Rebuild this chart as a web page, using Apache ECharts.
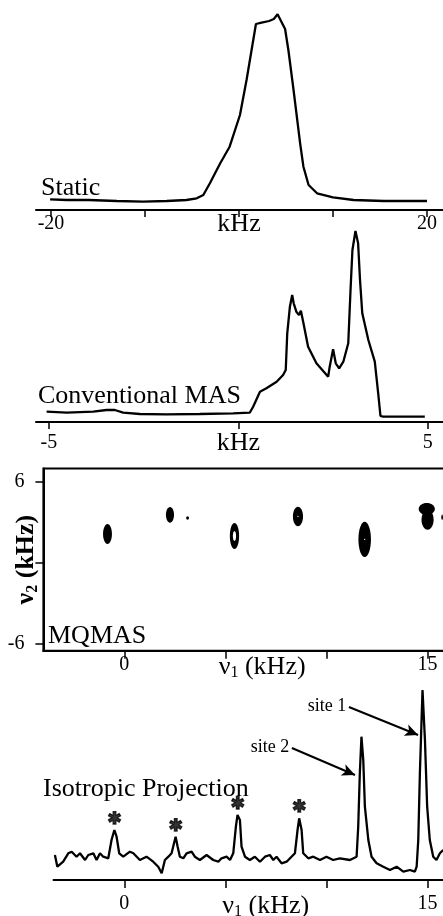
<!DOCTYPE html>
<html>
<head>
<meta charset="utf-8">
<title>Static, MAS and MQMAS spectra</title>
<script src="https://cdn.jsdelivr.net/npm/echarts@6/dist/echarts.min.js"></script>
<style>
html, body { margin: 0; padding: 0; background: #fff; }
#chart { width: 443px; height: 916px; }
</style>
</head>
<body>
<div id="chart"></div>
<script>
// static spectrum (kHz / arb. intensity)
const staticKHz = [-20.1, -18.3, -16.0, -13.0, -10.2, -7.7, -5.6, -4.5, -3.8, -3.1, -2.0, -1.0, 0.1, 0.8, 1.8, 2.4, 3.2, 3.7, 4.1, 4.9, 5.25, 5.8, 6.5, 6.85, 7.4, 8.3, 10.0, 12.2, 15.4, 20.0];
const staticInt = [10.7, 10, 10, 9, 8.3, 9, 10, 11.7, 15, 26.7, 46.7, 63.3, 95, 130, 186, 187.3, 189, 191, 195.7, 181, 160, 120, 66.7, 43.3, 25, 16.7, 12.7, 10, 9, 9];

// conventional MAS spectrum
const masKHz = [-5.06, -4.53, -3.83, -3.48, -3.26, -3.04, -2.60, -1.90, -1.02, -0.14, 0.30, 0.39, 0.57, 0.74, 1.01, 1.18, 1.25, 1.29, 1.36, 1.42, 1.46, 1.53, 1.60, 1.65, 1.71, 1.84, 2.06, 2.37, 2.41, 2.50, 2.57, 2.66, 2.77, 2.90, 2.96, 3.01, 3.09, 3.16, 3.21, 3.27, 3.43, 3.60, 3.69, 3.75, 3.82, 4.26, 4.92];
const masInt = [10.3, 9.3, 10.3, 12, 12, 9.3, 8, 7.7, 8, 8.7, 9.3, 15.3, 30.3, 33.7, 40.3, 47, 52, 88.7, 115.3, 127, 118.7, 110.3, 107, 111.3, 100.3, 75.3, 58.7, 45.3, 55.3, 72.7, 58.7, 53.7, 60.3, 78.7, 132, 172, 191, 178.7, 142, 108.7, 82, 60.3, 28.7, 6, 5.3, 5.3, 5.3];

// MQMAS contour peaks: v1, v2, half widths, inner contour half widths (kHz)
const mqV1 = [-0.83, 2.26, 3.13, 5.45, 8.59, 11.89, 14.96, 15.0, 15.72];
const mqV2 = [2.15, 3.56, 3.33, 2.0, 3.44, 1.74, 4.0, 3.19, 3.38];
const mqW1 = [0.22, 0.2, 0.07, 0.23, 0.25, 0.31, 0.40, 0.30, 0.04];
const mqW2 = [0.74, 0.59, 0.13, 0.96, 0.72, 1.30, 0.44, 0.74, 0.2];
const mqH1 = [0, 0, 0, 0.08, 0.03, 0.03, 0, 0, 0];
const mqH2 = [0, 0, 0, 0.37, 0.05, 0.05, 0, 0, 0];

// isotropic projection
const isoKHz = [-3.43, -3.31, -3.02, -2.77, -2.60, -2.36, -2.19, -1.94, -1.78, -1.53, -1.37, -1.20, -1.04, -0.79, -0.63, -0.49, -0.38, -0.25, -0.05, 0.28, 0.45, 0.77, 1.10, 1.43, 1.68, 1.85, 2.01, 2.18, 2.34, 2.46, 2.54, 2.64, 2.75, 2.92, 3.08, 3.33, 3.49, 3.74, 4.07, 4.40, 4.65, 4.81, 5.06, 5.23, 5.39, 5.52, 5.60, 5.72, 5.80, 5.97, 6.21, 6.46, 6.71, 6.96, 7.20, 7.37, 7.53, 7.78, 8.03, 8.27, 8.44, 8.57, 8.65, 8.77, 8.85, 9.10, 9.35, 9.68, 10.00, 10.33, 10.66, 11.16, 11.49, 11.57, 11.65, 11.73, 11.82, 11.90, 12.07, 12.23, 12.48, 12.81, 13.14, 13.47, 13.80, 14.13, 14.37, 14.46, 14.54, 14.62, 14.75, 14.87, 14.98, 15.11, 15.28, 15.44, 15.61, 15.77];
const isoInt = [25, 13.3, 18.3, 26.7, 28.3, 23.3, 26.7, 20, 25, 26.7, 20, 26.7, 23.3, 21.7, 40, 50, 43.3, 26.7, 23.3, 28.3, 26.7, 20, 23.3, 18.3, 13.3, 6.7, 20, 23.3, 26.7, 36.7, 43.3, 33.3, 23.3, 21.7, 26.7, 28.3, 23.3, 20, 25, 20, 18.3, 21.7, 23.3, 20, 26.7, 53.3, 65, 60, 33.3, 23.3, 20, 23.3, 18.3, 23.3, 25, 20, 23.3, 16.7, 18.3, 23.3, 26.7, 50, 61.7, 50, 26.7, 21.7, 23.3, 20, 23.3, 20, 21.7, 20, 23.3, 53.3, 106.7, 143.3, 120, 73.3, 40, 23.3, 16.7, 13.3, 10, 13.3, 8.3, 10, 8.3, 13.3, 40, 106.7, 190, 140, 73.3, 40, 23.3, 20, 26.7, 30];

// spinning sidebands (marked *)
const sidebandKHz = [-0.49, 2.54, 5.60, 8.65];
const sidebandInt = [50, 43.3, 65, 61.7];

const serif = '"Liberation Serif", "Times New Roman", serif';
const zip = (a, b) => a.map((v, i) => [v, b[i]]);

const tickRich = {
  t: { fontSize: 20, fontFamily: serif, color: '#000', lineHeight: 22 },
  n: { fontSize: 26, fontFamily: serif, color: '#000', lineHeight: 22 }
};
const nuRich = {
  a: { fontSize: 26, fontFamily: serif, color: '#000', lineHeight: 28 },
  s: { fontSize: 16, fontFamily: serif, color: '#000', lineHeight: 16, verticalAlign: 'bottom' }
};
const khzFormatter = v => (v === 0 ? '{n|kHz}' : '{t|' + v + '}');

function freqAxis(gridIndex, min, max, ticks, labels, opts) {
  return Object.assign({
    gridIndex: gridIndex,
    type: 'value',
    min: min,
    max: max,
    splitLine: { show: false },
    axisLine: { onZero: false, lineStyle: { color: '#000', width: 2 } },
    axisTick: { customValues: ticks, length: 7, lineStyle: { color: '#000', width: 1.5 } },
    axisLabel: { customValues: labels, formatter: khzFormatter, rich: tickRich, margin: 3 }
  }, opts || {});
}

const gridBase = { containLabel: false, outerBoundsMode: 'none' };
const curveStyle = { color: '#000', width: 2.3 };

const chart = echarts.init(document.getElementById('chart'));

chart.setOption({
  animation: false,
  backgroundColor: '#fff',
  grid: [
    Object.assign({ left: 36, top: 10, width: 407, height: 200 }, gridBase),
    Object.assign({ left: 36, top: 222, width: 407, height: 200 }, gridBase),
    Object.assign({ left: 43.4, top: 468.4, width: 414.5, height: 182.3, show: true, borderColor: '#000', borderWidth: 2 }, gridBase),
    Object.assign({ left: 53.5, top: 680, width: 404.4, height: 200 }, gridBase)
  ],
  xAxis: [
    freqAxis(0, -21.6, 21.7, [-20, -10, 0, 10, 20], [-20, 0, 20]),
    freqAxis(1, -5.34, 5.40, [-5, 0, 5], [-5, 0, 5], {
      axisLabel: { customValues: [-5, 0, 5], formatter: khzFormatter, rich: tickRich, margin: 10 }
    }),
    freqAxis(2, -4, 16.5, [0, 5, 10, 15], [0, 15], {
      axisTick: { customValues: [0, 5, 10, 15], length: 8, lineStyle: { color: '#000', width: 1.5 } },
      axisLabel: { customValues: [0, 15], formatter: v => '{t|' + v + '}', rich: tickRich, margin: 3 },
      name: '{a|ν}{s|1}{a| (kHz)}',
      nameLocation: 'middle',
      nameGap: 2,
      nameMoveOverlap: false,
      nameTextStyle: { rich: nuRich, padding: [0, 0, 0, 23] }
    }),
    freqAxis(3, -3.5, 16.5, [0, 5, 10, 15], [0, 15], {
      axisTick: { customValues: [0, 5, 10, 15], length: 8, lineStyle: { color: '#000', width: 1.5 } },
      axisLabel: { customValues: [0, 15], formatter: v => '{t|' + v + '}', rich: tickRich, margin: 13 },
      name: '{a|ν}{s|1}{a| (kHz)}',
      nameLocation: 'middle',
      nameGap: 12,
      nameMoveOverlap: false,
      nameTextStyle: { rich: nuRich, padding: [0, 0, 0, 20] }
    })
  ],
  yAxis: [
    { gridIndex: 0, type: 'value', min: 0, max: 200, show: false },
    { gridIndex: 1, type: 'value', min: 0, max: 200, show: false },
    {
      gridIndex: 2, type: 'value', min: -6.5, max: 7,
      splitLine: { show: false },
      axisLine: { onZero: false, lineStyle: { color: '#000', width: 2 } },
      axisTick: { customValues: [-6, 0, 6], length: 8, lineStyle: { color: '#000', width: 1.5 } },
      axisLabel: { customValues: [-6, 6], formatter: v => '{t|' + v + '}', rich: tickRich, margin: 19 },
      name: '{a|ν}{s|2}{a| (kHz)}',
      nameLocation: 'middle',
      nameRotate: 90,
      nameGap: 3,
      nameMoveOverlap: false,
      nameTextStyle: { rich: nuRich, fontWeight: 'bold' }
    },
    { gridIndex: 3, type: 'value', min: 0, max: 200, show: false }
  ],
  graphic: [
    { type: 'text', x: 41, y: 188, style: { text: 'Static', fontSize: 26, fontFamily: serif, fill: '#000', verticalAlign: 'middle' } },
    { type: 'text', x: 38, y: 396, style: { text: 'Conventional MAS', fontSize: 26, fontFamily: serif, fill: '#000', verticalAlign: 'middle' } },
    { type: 'text', x: 48, y: 636, style: { text: 'MQMAS', fontSize: 26, fontFamily: serif, fill: '#000', verticalAlign: 'middle' } },
    { type: 'text', x: 43, y: 789, style: { text: 'Isotropic Projection', fontSize: 26, fontFamily: serif, fill: '#000', verticalAlign: 'middle' } }
  ],
  series: [
    {
      type: 'line', xAxisIndex: 0, yAxisIndex: 0,
      data: zip(staticKHz, staticInt),
      showSymbol: false,
      lineStyle: curveStyle
    },
    {
      type: 'line', xAxisIndex: 1, yAxisIndex: 1,
      data: zip(masKHz, masInt),
      showSymbol: false,
      lineStyle: curveStyle
    },
    {
      type: 'custom', xAxisIndex: 2, yAxisIndex: 2,
      data: mqV1.map((v, i) => [v, mqV2[i], mqW1[i], mqW2[i], mqH1[i], mqH2[i]]),
      renderItem: function (params, api) {
        const c = api.coord([api.value(0), api.value(1)]);
        const s = api.size([api.value(2), api.value(3)]);
        const h = api.size([api.value(4), api.value(5)]);
        const children = [{
          type: 'ellipse',
          shape: { cx: c[0], cy: c[1], rx: s[0], ry: s[1] },
          style: { fill: '#000' }
        }];
        if (h[0] > 0) {
          children.push({
            type: 'ellipse',
            shape: { cx: c[0], cy: c[1], rx: h[0], ry: h[1] },
            style: { fill: '#fff' }
          });
        }
        return { type: 'group', children: children };
      }
    },
    {
      type: 'line', xAxisIndex: 3, yAxisIndex: 3,
      data: zip(isoKHz, isoInt),
      showSymbol: false,
      lineStyle: curveStyle,
      markLine: {
        silent: true,
        animation: false,
        symbol: ['none', 'arrow'],
        symbolSize: [9, 13],
        lineStyle: { color: '#000', width: 2, type: 'solid' },
        label: { show: true, position: 'start', formatter: '{b}', distance: 3, color: '#000', fontFamily: serif, fontSize: 18 },
        data: [
          [{ name: 'site 1', coord: [11.11, 173] }, { coord: [14.53, 145] }],
          [{ name: 'site 2', coord: [8.29, 132] }, { coord: [11.41, 105] }]
        ]
      }
    },
    {
      type: 'scatter', xAxisIndex: 3, yAxisIndex: 3,
      data: zip(sidebandKHz, sidebandInt),
      symbolSize: 1,
      itemStyle: { color: 'transparent' },
      label: {
        show: true, position: 'top', distance: 3,
        formatter: '✱', color: '#000', fontWeight: 'bold',
        textBorderColor: '#000', textBorderWidth: 1.3,
        fontFamily: '"DejaVu Sans", sans-serif', fontSize: 17, lineHeight: 14
      }
    }
  ]
});
</script>
</body>
</html>
